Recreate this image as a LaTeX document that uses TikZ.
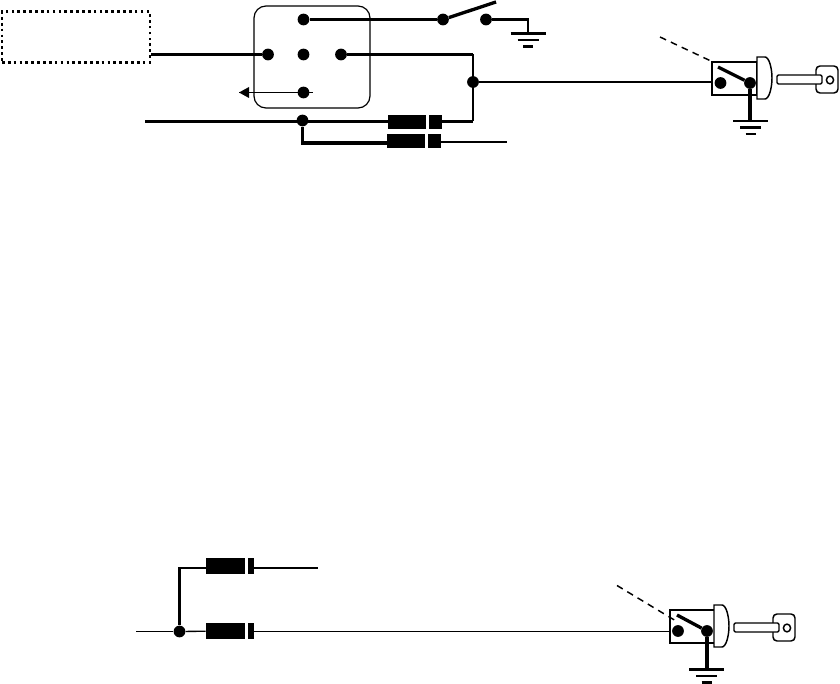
\documentclass[tikz,border=0pt]{standalone}
\usepackage{tikz}
\usetikzlibrary{arrows.meta}

\tikzset{
  ground sym/.pic={
    \draw[line width=2.1pt] (-17.5,0) -- (17.5,0);
    \draw[line width=1.9pt] (-10.5,6.5) -- (10.5,6.5);
    \draw[line width=1.9pt] (-5,13) -- (5,13);
  },
  key lock/.pic={
    \draw[line width=1.1pt,fill=white] (45,-5) -- (53,-5) .. controls (57,-5) and (60,6) .. (60,16)
      .. controls (60,26) and (57,37) .. (53,37) -- (45,37) -- cycle;
    \draw[line width=1.1pt,rounded corners=3pt,fill=white] (104,4) rectangle (126,31);
    \draw[line width=1.1pt,rounded corners=1pt,fill=white] (65,13) rectangle (110,22);
    \draw[line width=1.1pt] (118,18) ellipse (3.6 and 3.9);
  }
}

\begin{document}
\begin{tikzpicture}[x=.75pt,y=-.75pt,
  dot/.style={circle,fill=black,inner sep=0pt,minimum size=8.8pt},
  fat/.style={line width=2.5pt},
  wire/.style={line width=1.8pt},
  thin wire/.style={line width=1pt},
  diode/.style={rectangle,fill=black,inner sep=0pt,minimum height=10.8pt,minimum width=#1},
  gap/.style={rectangle,fill=white,inner sep=0pt,minimum height=13pt,minimum width=#1}]
\useasboundingbox (0,0) rectangle (840,684);

% upper circuit
\node[draw,dash pattern=on 2pt off 2.4pt,line width=2pt,minimum width=111pt,minimum height=38pt,inner sep=0pt] (ecu) at (76,37) {};
\node[draw,line width=.9pt,rounded corners=9pt,minimum width=87pt,minimum height=76.5pt,inner sep=0pt] (relay) at (312,57) {};
\node[dot] (r1) at (303.5,19.5) {};
\node[dot] (r2) at (268,54.5) {};
\node[dot] (r3) at (303.5,54.5) {};
\node[dot] (r4) at (341,54.5) {};
\node[dot] (r5) at (303.5,92.5) {};
\coordinate (rstub) at (313,92.5);
\coordinate (rtip) at (239,92.5);
\node[dot] (s1) at (443,19.5) {};
\node[dot] (s2) at (486,19.5) {};
\coordinate (lever) at (496,2);
\coordinate (gnd1) at (528,33);
\node[dot] (j1) at (473,82) {};
\node[dot] (j2) at (302.5,120.5) {};
\coordinate (bat) at (145,121.5);
\coordinate (j1top) at (473,54.5);
\coordinate (j1low) at (473,121.5);
\coordinate (out1) at (507,142);
\node[draw,line width=1.6pt,minimum width=33.5pt,minimum height=24.5pt,inner sep=0pt] (sw1) at (734.5,78.5) {};

\node[diode=40.5pt] (d1) at (415,122) {};
\node[gap=2.2pt] (d1gap) at (427.5,122) {};
\node[diode=40.5pt] (d2) at (414,141) {};
\node[gap=1.9pt] (d2gap) at (426.5,141) {};

\draw[fat] (ecu.east |- r2) -- (r2);
\draw[thin wire] (rtip) -- (rstub);
\fill (rtip) -- (249,87) -- (249,98) -- cycle;
\draw[wire] (r1) -- (s1);
\draw[fat] (s1) -- (lever);
\draw[wire] (s2) -| (gnd1);
\draw[fat] (r4) -- (j1top);
\draw[wire] (j1top) -- (j1low);
\draw[wire] (j1) -- (sw1.west |- j1);
\draw[fat] (bat) -- (d1.west |- bat);
\draw[fat] (d1.east |- j1low) -- (j1low);
\draw[fat] (j2) |- (d2.west |- 0,143);
\draw[wire] (d2.east |- out1) -- (out1);
\pic at (528,33.5) {ground sym};

% upper switch and key
\node[dot] (a1) at (720.5,83) {};
\node[dot] (b1) at (750,83) {};
\coordinate (tip1) at (718,67);
\coordinate (far1) at (660,37);
\coordinate (gnd2) at (750,121);
\draw[fat] (tip1) -- (b1);
\draw[line width=1.1pt,dash pattern=on 5pt off 4pt] (far1) -- (sw1.north west);
\draw[fat] (b1) -- (gnd2);
\pic at (712,62) {key lock};
\pic at (750.5,121) {ground sym};

% lower circuit
\node[dot] (j3) at (179.5,631.5) {};
\coordinate (in3) at (136,631.5);
\coordinate (bend3) at (179.5,568);
\coordinate (out3) at (318,568);
\node[diode=36pt,minimum height=11.6pt] (d3) at (230,566) {};
\node[gap=2.4pt,minimum height=13pt] (d3gap) at (246.7,566) {};
\node[diode=36pt,minimum height=11.6pt] (d4) at (230,631) {};
\node[gap=2.4pt,minimum height=13pt] (d4gap) at (246.7,631) {};

\draw[thin wire] (in3) -- (j3);
\draw[thin wire] (j3) -- (d4);
\draw[wire] (j3) -- (bend3) -- (d3.west |- bend3);
\draw[wire] (d3.east |- bend3) -- (out3);

\node[draw,line width=1.3pt,minimum width=34.5pt,minimum height=24.5pt,inner sep=0pt] (sw2) at (693,626.5) {};
\node[dot] (a2) at (678,631) {};
\node[dot] (b2) at (707,631) {};
\coordinate (tip2) at (677,615);
\coordinate (far2) at (617,585.5);
\coordinate (gnd3) at (707,669);
\draw[thin wire] (d4.east |- in3) -- (sw2.west |- in3);
\draw[fat] (tip2) -- (b2);
\draw[line width=1.1pt,dash pattern=on 5pt off 4pt] (far2) -- (676,621);
\draw[fat] (b2) -- (gnd3);
\pic at (669,610) {key lock};
\pic at (706.5,669.5) {ground sym};
\end{tikzpicture}
\end{document}
